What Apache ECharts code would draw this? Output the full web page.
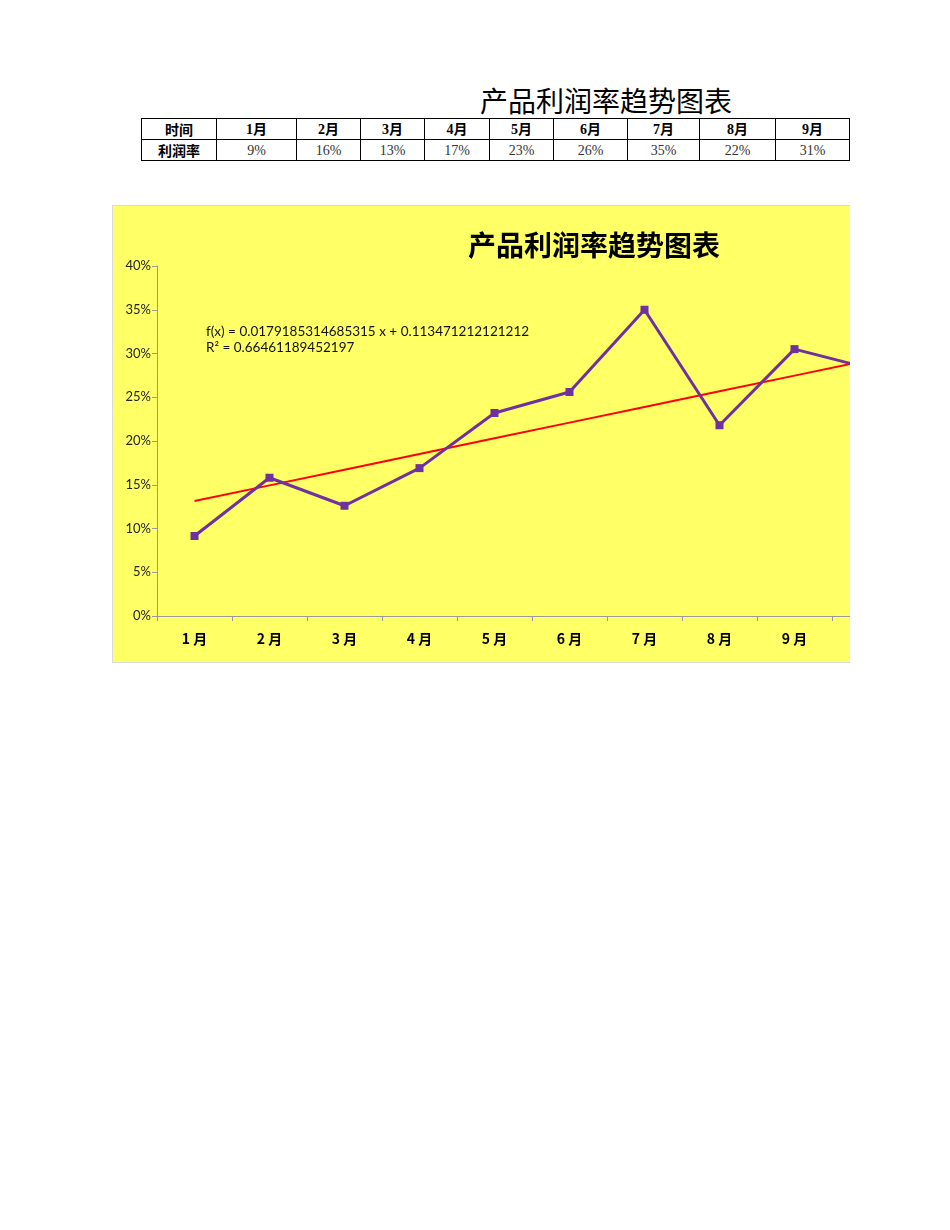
<!DOCTYPE html>
<html>
<head>
<meta charset="utf-8">
<script src="https://cdn.jsdelivr.net/npm/echarts@6/dist/echarts.min.js"></script>
<style>
  html, body { margin:0; padding:0; background:#fff; width:950px; height:1230px; overflow:hidden; }
  #pageTitle { position:absolute; left:406px; width:400px; top:81px; text-align:center;
    font-family:"Noto Sans CJK SC", sans-serif; font-size:28px; color:#000; line-height:38px; }
  #tbl { position:absolute; left:141px; top:118px; border-collapse:collapse; table-layout:fixed; }
  #tbl td { border:1px solid #000; height:20px; padding:0; text-align:center; font-size:14px; line-height:19px; }
  #tbl tr.h td { font-family:"Liberation Serif","Noto Sans CJK SC", serif; font-weight:bold; }
  #tbl tr.v td { font-family:"Liberation Serif", serif; color:#333; }
  #tbl td.lab { font-family:"Noto Sans CJK SC", sans-serif !important; font-weight:bold; color:#000 !important; }
  #wrap { position:absolute; left:112px; top:205px; width:738px; height:458px; overflow:hidden;
    box-sizing:border-box; border-left:1px solid #d9d9d9; border-top:1px solid #d9d9d9; border-bottom:1px solid #d9d9d9; }
  #chart { position:absolute; left:-1px; top:-1px; width:964px; height:458px; }
</style>
</head>
<body>
<div id="pageTitle">产品利润率趋势图表</div>
<table id="tbl">
  <colgroup id="cols"></colgroup>
  <tr class="h" id="rowH"></tr>
  <tr class="v" id="rowV"></tr>
</table>
<div id="wrap"><div id="chart"></div></div>
<script>
// ---- data ----
const months = ['1月','2月','3月','4月','5月','6月','7月','8月','9月','10月','11月','12月'];
const profitRate = [0.0914, 0.158, 0.126, 0.169, 0.232, 0.256, 0.350, 0.218, 0.305, 0.283, 0.269, 0.301];
const tableMonths = ['1月','2月','3月','4月','5月','6月','7月','8月','9月'];
const tableRates = ['9%','16%','13%','17%','23%','26%','35%','22%','31%'];
const trendSlope = 0.0179185314685315;
const trendIntercept = 0.113471212121212;
const trendLabel = ['f(x) = 0.0179185314685315 x + 0.113471212121212', 'R² = 0.66461189452197'];
const yTicks = [0, 0.05, 0.10, 0.15, 0.20, 0.25, 0.30, 0.35, 0.40];

// ---- table ----
const colW = [75, 80, 64, 64, 65, 64, 74, 72, 76, 74];
const cols = document.getElementById('cols');
colW.forEach(w => { const c = document.createElement('col'); c.style.width = w + 'px'; cols.appendChild(c); });
const rowH = document.getElementById('rowH'), rowV = document.getElementById('rowV');
function cell(row, txt, cls) { const td = document.createElement('td'); td.textContent = txt; if (cls) td.className = cls; row.appendChild(td); }
cell(rowH, '时间', 'lab'); tableMonths.forEach(m => cell(rowH, m));
cell(rowV, '利润率', 'lab'); tableRates.forEach(v => cell(rowV, v));

// ---- chart ----
const trend = months.map((m, i) => trendSlope * (i + 1) + trendIntercept);
const chart = echarts.init(document.getElementById('chart'), null, { renderer: 'canvas' });
chart.setOption({
  backgroundColor: '#FFFF66',
  animation: false,
  title: {
    text: '产品利润率趋势图表', left: 'center', top: 21,
    textStyle: { fontFamily: '"Noto Sans CJK SC", sans-serif', fontSize: 28, fontWeight: 'bold', color: '#000' }
  },
  grid: { left: 45, top: 61, right: 19, bottom: 47, containLabel: false },
  xAxis: {
    type: 'category', data: months, boundaryGap: true,
    axisLine: { show: true, lineStyle: { color: '#999', width: 1 } },
    axisTick: { show: true, length: 5, inside: false, lineStyle: { color: '#999' } },
    axisLabel: { margin: 16, fontSize: 14, fontWeight: 'bold', color: '#000',
      fontFamily: '"Noto Sans CJK SC", sans-serif',
      formatter: v => v.replace(/^(\d+)/, '$1 ') },
    splitLine: { show: false }
  },
  yAxis: {
    type: 'value', min: yTicks[0], max: yTicks[yTicks.length - 1], interval: yTicks[1] - yTicks[0],
    axisLine: { show: true, lineStyle: { color: '#999', width: 1 } },
    axisTick: { show: true, length: 5, lineStyle: { color: '#999' } },
    axisLabel: { margin: 6, fontSize: 13, color: '#222', fontFamily: 'Lato, sans-serif',
      formatter: v => Math.round(v * 100) + '%' },
    splitLine: { show: false }
  },
  graphic: [{
    type: 'text', left: 94, top: 119,
    style: { text: trendLabel.join('\n'), fontSize: 13.5, lineHeight: 16, fill: '#111', fontFamily: 'Lato, sans-serif' }
  }],
  series: [
    {
      name: '趋势线', type: 'line', data: trend, showSymbol: false, symbol: 'none',
      lineStyle: { color: '#FF0000', width: 2 }, z: 2
    },
    {
      name: '利润率', type: 'line', data: profitRate, symbol: 'rect', symbolSize: 8,
      itemStyle: { color: '#7030A0' }, lineStyle: { color: '#7030A0', width: 3 }, z: 3
    }
  ]
});
</script>
</body>
</html>
